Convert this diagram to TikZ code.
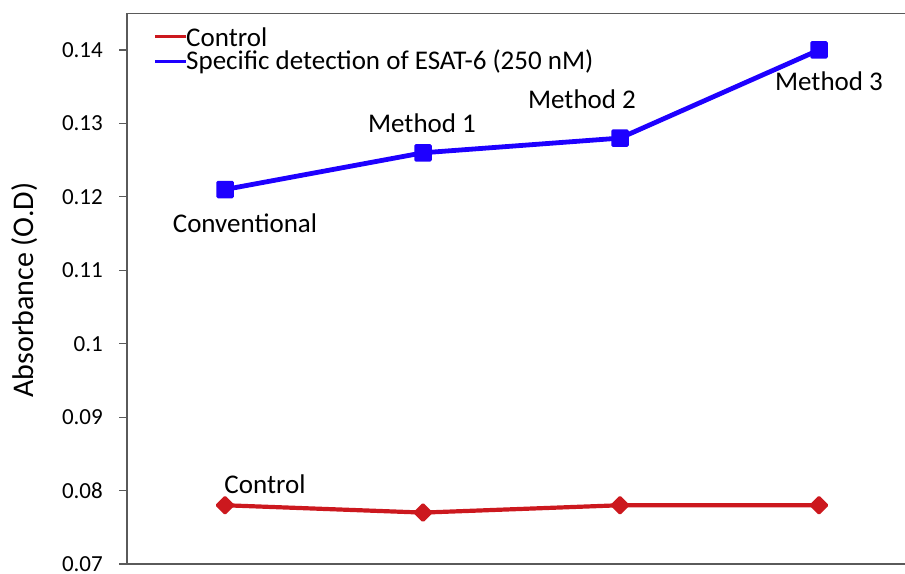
\documentclass[tikz,border=0pt]{standalone}
\usepackage{fontspec}
\setmainfont{Carlito}
\usetikzlibrary{shapes.geometric,calc}

\definecolor{ctrlred}{RGB}{204,24,30}
\definecolor{espblue}{RGB}{30,0,255}
\definecolor{axgray}{RGB}{90,90,90}

\tikzset{
  every node/.style={font=\fontsize{23}{27}\selectfont},
  axisline/.style={draw=axgray, line width=1.2pt},
  blueline/.style={espblue, line width=4.8pt},
  redline/.style={ctrlred, line width=4.2pt},
  sqmark/.style={draw=none, fill=espblue, rectangle, rounded corners=1.5pt, minimum size=17.5pt, inner sep=0pt},
  dmmark/.style={draw=none, fill=ctrlred, diamond, rounded corners=1.5pt, minimum size=20pt, inner sep=0pt},
  ticklabel/.style={anchor=east, inner sep=0pt},
  ptlabel/.style={inner sep=0pt, font=\fontsize{27}{31}\selectfont}
}

\begin{document}
\begin{tikzpicture}[x=1pt,y=1pt]
\useasboundingbox (0,0) rectangle (905,573);

% data area: y value v sits at 9 + (100v - 7)*73.43
\begin{scope}[y=73.43pt, shift={(0,9pt)}]
 % axes (the frame is open on the right)
 \draw[axisline] (905,7.5) -- (127,7.5) -- (127,0) -- (905,0);
 \foreach \v/\t in {0/0.07,1/0.08,2/0.09,3/0.1,4/0.11,5/0.12,6/0.13,7/0.14}{
   \draw[axisline] (119,\v) -- (127,\v);
   \node[ticklabel] (tick\v) at (103,\v) {\t};
 }

 % ESAT-6 series
 \coordinate (b1) at (225,5.1);
 \coordinate (b2) at (423,5.6);
 \coordinate (b3) at (620,5.8);
 \coordinate (b4) at (819,7.0);
 \draw[blueline] (b1) -- (b2) -- (b3) -- (b4);
 \foreach \i in {1,...,4} \node[sqmark] (sq\i) at (b\i) {};

 % control series
 \coordinate (r1) at (225,0.8);
 \coordinate (r2) at (423,0.7);
 \coordinate (r3) at (620,0.8);
 \coordinate (r4) at (819,0.8);
 \draw[redline] (r1) -- (r2) -- (r3) -- (r4);
 \foreach \i in {1,...,4} \node[dmmark] (dm\i) at (r\i) {};
\end{scope}

% point labels
\node[ptlabel] (conv) at (245,350) {Conventional};
\node[ptlabel] (meth1) at (422,450) {Method 1};
\node[ptlabel] (meth2) at (582,474) {Method 2};
\node[ptlabel] (meth3) at (829,492) {Method 3};
\node[ptlabel] (ctrl) at (265,89) {Control};

% legend
\coordinate (lgr) at (155,536);
\coordinate (lgb) at (155,511);
\draw[ctrlred, line width=3pt] (lgr) -- ++(31,0) coordinate (lgr2);
\draw[espblue, line width=3pt] (lgb) -- ++(31,0) coordinate (lgb2);
\node[ptlabel, anchor=west] (legctrl) at (lgr2) {Control};
\node[ptlabel, anchor=west] (legesat) at (lgb2) {Specific detection of ESAT-6 (250 nM)};

% y axis title
\node[rotate=90, font=\fontsize{30}{34}\selectfont] (ytitle) at (25,283) {Absorbance (O.D)};
\end{tikzpicture}
\end{document}
